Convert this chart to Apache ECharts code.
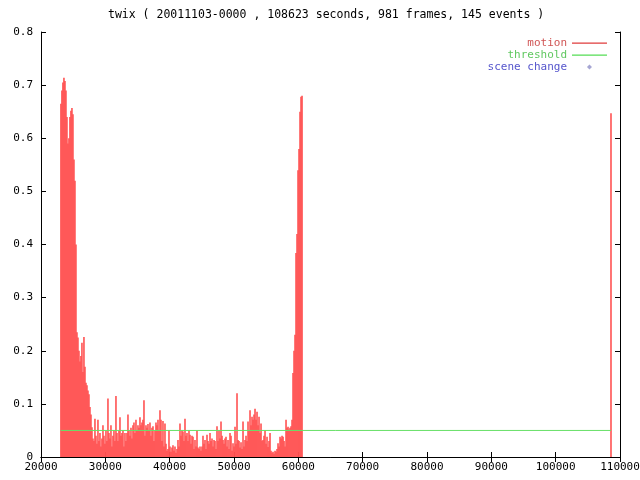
<!DOCTYPE html>
<html>
<head>
<meta charset="utf-8">
<script src="https://cdn.jsdelivr.net/npm/echarts@6/dist/echarts.min.js"></script>
<style>html,body{margin:0;padding:0;background:#fff}#c{width:640px;height:480px}</style>
</head>
<body>
<div id="c"></div>
<script>
const titleText = 'twix ( 20011103-0000 , 108623 seconds, 981 frames, 145 events )';
const xTicks = [20000, 30000, 40000, 50000, 60000, 70000, 80000, 90000, 100000, 110000];
const yTicks = [0, 0.1, 0.2, 0.3, 0.4, 0.5, 0.6, 0.7, 0.8];
const seriesNames = ['motion', 'threshold', 'scene change'];
const motionStart = 23100;   // seconds of first frame shown
const motionStep = 155.5;    // seconds between samples
const motionValues = [
  0.665,0.690,0.705,0.714,0.708,0.690,0.640,0.590,0.600,0.640,
  0.652,0.657,0.645,0.560,0.520,0.400,0.235,0.225,0.200,0.180,
  0.190,0.215,0.160,0.226,0.170,0.140,0.135,0.125,0.118,0.094,
  0.080,0.056,0.035,0.030,0.072,0.040,0.025,0.070,0.030,0.045,
  0.020,0.035,0.060,0.040,0.025,0.050,0.030,0.110,0.045,0.035,
  0.060,0.020,0.040,0.050,0.030,0.115,0.045,0.030,0.050,0.075,
  0.040,0.045,0.050,0.020,0.045,0.030,0.045,0.080,0.050,0.040,
  0.055,0.035,0.060,0.065,0.045,0.070,0.050,0.060,0.055,0.075,
  0.060,0.065,0.070,0.107,0.040,0.060,0.055,0.062,0.050,0.065,
  0.040,0.055,0.058,0.030,0.050,0.065,0.060,0.070,0.050,0.088,
  0.070,0.030,0.068,0.020,0.063,0.025,0.012,0.015,0.050,0.020,
  0.010,0.018,0.022,0.012,0.020,0.008,0.015,0.032,0.020,0.063,
  0.040,0.050,0.048,0.030,0.072,0.040,0.045,0.030,0.050,0.042,
  0.025,0.040,0.038,0.015,0.032,0.020,0.050,0.018,0.015,0.020,
  0.012,0.020,0.040,0.025,0.032,0.015,0.042,0.030,0.025,0.045,
  0.030,0.035,0.020,0.032,0.030,0.015,0.058,0.030,0.050,0.035,
  0.067,0.040,0.032,0.025,0.035,0.038,0.020,0.032,0.015,0.045,
  0.040,0.012,0.026,0.020,0.057,0.025,0.120,0.032,0.030,0.018,
  0.028,0.015,0.067,0.020,0.032,0.040,0.030,0.067,0.050,0.088,
  0.060,0.076,0.070,0.080,0.091,0.070,0.085,0.060,0.076,0.045,
  0.063,0.030,0.032,0.040,0.050,0.025,0.038,0.019,0.030,0.045,
  0.012,0.008,0.010,0.006,0.012,0.010,0.015,0.026,0.020,0.038,
  0.035,0.040,0.038,0.030,0.020,0.070,0.055,0.057,0.052,0.055,
  0.058,0.070,0.158,0.200,0.230,0.384,0.420,0.540,0.580,0.650,
  0.678,0.680
];
const lastFrameTime = 108600;
const lastFrameValue = 0.647;
const thresholdValue = 0.05;
const thresholdRange = [23050, 108600];
const sceneChanges = [];

const motionData = motionValues.map((v, i) => [motionStart + i * motionStep, v]);
motionData.push([lastFrameTime, lastFrameValue]);
const thresholdData = thresholdRange.map(t => [t, thresholdValue]);

const FONT = 'DejaVu Sans Mono';
const RED = '#ff5252', GREEN = '#66e066', BLUE = '#5555cc';
const tickStyle = { show: true, inside: true, length: 5, lineStyle: { color: '#000' } };
const lineStyle = { show: true, lineStyle: { color: '#000', width: 1 } };
const lineIcon = 'path://M0,0L0.01,0M0,4L35,4L35,5.2L0,5.2ZM35,10L35.01,10';
const diamondIcon = 'path://M0,0L0.01,0M17.5,2L20,4.5L17.5,7L15,4.5ZM35,10L35.01,10';

const chart = echarts.init(document.getElementById('c'), null, { renderer: 'canvas' });
chart.setOption({
  animation: false,
  backgroundColor: '#fff',
  textStyle: { fontFamily: FONT },
  title: {
    text: titleText, left: 108, top: 9, padding: 0,
    textStyle: { fontFamily: FONT, fontSize: 11.5, fontWeight: 'normal', color: '#000' }
  },
  legend: {
    orient: 'vertical', align: 'right', right: 33, top: 38, padding: 0,
    itemWidth: 35, itemHeight: 10, itemGap: 1,
    selectedMode: false,
    textStyle: { fontFamily: FONT, fontSize: 11, lineHeight: 10 },
    data: [
      { name: seriesNames[0], icon: lineIcon, itemStyle: { color: '#e03c3c' }, textStyle: { color: '#d05555' } },
      { name: seriesNames[1], icon: lineIcon, itemStyle: { color: '#55dd55' }, textStyle: { color: '#60c860' } },
      { name: seriesNames[2], icon: diamondIcon, itemStyle: { color: '#9090c8' }, textStyle: { color: BLUE } }
    ]
  },
  grid: { left: 41, right: 20, top: 32, bottom: 23, outerBoundsMode: 'none', containLabel: false },
  xAxis: [{
    type: 'value', min: 20000, max: 110000, interval: 10000, position: 'bottom',
    axisLine: lineStyle, axisTick: tickStyle, splitLine: { show: false },
    axisLabel: { color: '#000', fontFamily: FONT, fontSize: 11, margin: 5,
      formatter: v => xTicks.includes(v) ? String(v) : '' }
  }, {
    type: 'value', min: 20000, max: 110000, interval: 10000, position: 'top',
    axisLine: lineStyle, axisTick: tickStyle, splitLine: { show: false }, axisLabel: { show: false }
  }],
  yAxis: [{
    type: 'value', min: 0, max: 0.8, interval: 0.1, position: 'left',
    axisLine: lineStyle, axisTick: tickStyle, splitLine: { show: false },
    axisLabel: { color: '#000', fontFamily: FONT, fontSize: 11, margin: 8,
      formatter: v => { const t = yTicks.find(y => Math.abs(y - v) < 1e-9); return t === undefined ? '' : String(t); } }
  }, {
    type: 'value', min: 0, max: 0.8, interval: 0.1, position: 'right',
    axisLine: lineStyle, axisTick: tickStyle, splitLine: { show: false }, axisLabel: { show: false }
  }],
  series: [
    {
      name: seriesNames[0], type: 'bar', xAxisIndex: 0, yAxisIndex: 0,
      data: motionData, barWidth: 1.6, barGap: '-100%',
      itemStyle: { color: RED }, large: false
    },
    {
      name: seriesNames[1], type: 'line', xAxisIndex: 0, yAxisIndex: 0,
      data: thresholdData, symbol: 'none', lineStyle: { color: GREEN, width: 1 }, z: 3
    },
    {
      name: seriesNames[2], type: 'scatter', xAxisIndex: 0, yAxisIndex: 0,
      data: sceneChanges, symbol: 'diamond', symbolSize: 5, itemStyle: { color: '#9090c8' }
    }
  ]
});
</script>
</body>
</html>
